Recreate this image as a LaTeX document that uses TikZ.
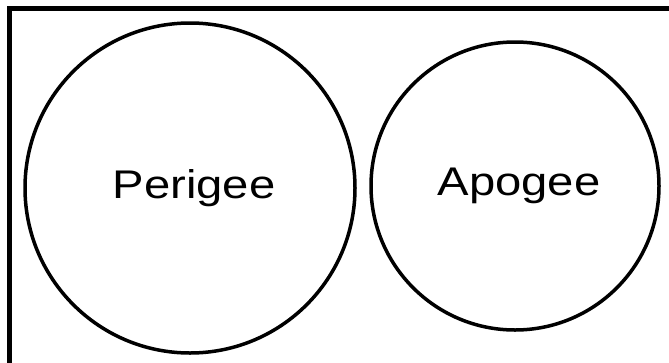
\documentclass[tikz,border=0pt]{standalone}
\usepackage{fontspec}
\setmainfont{Liberation Sans}
\usetikzlibrary{positioning}
\definecolor{inkblack}{HTML}{000000}
\tikzset{
  orb/.style={draw=inkblack, circle, line width=3.5pt, inner sep=0pt},
  txt/.style={inner sep=0pt, font=\fontsize{40}{48}\selectfont, xshift=4pt},
  frame/.style={draw=inkblack, line width=5pt, line join=miter},
}
\newcommand{\wide}[1]{\scalebox{1.18}[1]{#1}}

\begin{document}
\begin{tikzpicture}[x=1pt, y=-1pt]
  \useasboundingbox (0,0) rectangle (669,362);
  \coordinate (tl) at (9.5,8.5);
  \coordinate (tr) at (672,8.5);
  \coordinate (bl) at (9.5,365);
  \draw[frame] (bl) -- (tl) -- (tr);
  \node (peri) [orb, minimum size=330pt] at (190,188) {};
  \node (apo) [orb, minimum size=288pt] at (515,186) {};
  \node (peritxt) [txt] at (peri.center) {\wide{Perigee}};
  \node (apotxt) [txt] at (apo.center) {\wide{Apogee}};
\end{tikzpicture}
\end{document}
